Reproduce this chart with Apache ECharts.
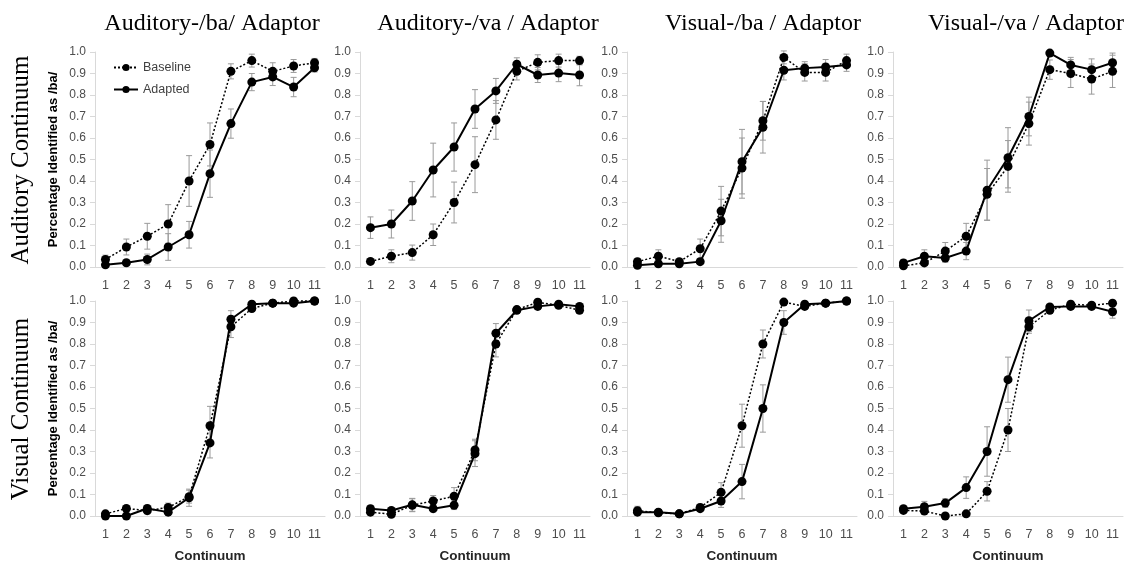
<!DOCTYPE html>
<html>
<head>
<meta charset="utf-8">
<script src="https://cdn.jsdelivr.net/npm/echarts@6/dist/echarts.min.js"></script>
<style>
  html, body { margin: 0; padding: 0; background: #fff; }
  #chart { width: 1139px; height: 565px; }
</style>
</head>
<body>
<div id="chart"></div>
<script>
const categories = ['1', '2', '3', '4', '5', '6', '7', '8', '9', '10', '11'];
const colTitles = ['Auditory-/ba/ Adaptor', 'Auditory-/va / Adaptor', 'Visual-/ba / Adaptor', 'Visual-/va / Adaptor'];
const rowTitles = ['Auditory Continuum', 'Visual Continuum'];
const yAxisTitle = 'Percentage Identified as /ba/';
const xAxisTitle = 'Continuum';

// row 1: auditory continuum
const p1Base = [0.035, 0.093, 0.143, 0.20, 0.40, 0.57, 0.91, 0.96, 0.91, 0.935, 0.95];
const p1BaseErr = [0.02, 0.037, 0.06, 0.09, 0.118, 0.10, 0.035, 0.03, 0.04, 0.03, 0.02];
const p1Adapt = [0.01, 0.02, 0.035, 0.093, 0.15, 0.434, 0.667, 0.86, 0.884, 0.837, 0.927];
const p1AdaptErr = [0.01, 0.01, 0.025, 0.062, 0.062, 0.11, 0.068, 0.04, 0.04, 0.045, 0.02];

const p2Base = [0.026, 0.05, 0.067, 0.15, 0.30, 0.476, 0.684, 0.91, 0.952, 0.96, 0.96];
const p2BaseErr = [0.01, 0.03, 0.035, 0.05, 0.095, 0.13, 0.09, 0.04, 0.035, 0.03, 0.02];
const p2Adapt = [0.183, 0.20, 0.307, 0.451, 0.558, 0.735, 0.819, 0.943, 0.893, 0.902, 0.893];
const p2AdaptErr = [0.05, 0.065, 0.09, 0.125, 0.112, 0.09, 0.058, 0.03, 0.035, 0.04, 0.05];

const p3Base = [0.025, 0.05, 0.025, 0.085, 0.26, 0.46, 0.68, 0.975, 0.905, 0.905, 0.96];
const p3BaseErr = [0.015, 0.03, 0.01, 0.045, 0.115, 0.14, 0.09, 0.03, 0.04, 0.04, 0.03];
const p3Adapt = [0.008, 0.015, 0.015, 0.025, 0.215, 0.49, 0.65, 0.915, 0.925, 0.93, 0.94];
const p3AdaptErr = [0.01, 0.01, 0.01, 0.01, 0.1, 0.15, 0.12, 0.045, 0.03, 0.035, 0.03];

const p4Base = [0.006, 0.019, 0.074, 0.143, 0.338, 0.468, 0.667, 0.918, 0.90, 0.874, 0.91];
const p4BaseErr = [0.01, 0.01, 0.04, 0.06, 0.12, 0.12, 0.1, 0.045, 0.065, 0.07, 0.075];
const p4Adapt = [0.019, 0.05, 0.042, 0.074, 0.357, 0.508, 0.70, 0.995, 0.94, 0.918, 0.95];
const p4AdaptErr = [0.015, 0.03, 0.02, 0.04, 0.14, 0.14, 0.09, 0.01, 0.035, 0.05, 0.045];

// row 2: visual continuum
const p5Base = [0.01, 0.035, 0.025, 0.04, 0.09, 0.42, 0.88, 0.965, 0.99, 1.0, 1.0];
const p5BaseErr = [0.01, 0.01, 0.015, 0.02, 0.03, 0.09, 0.05, 0.01, 0.005, 0.005, 0.005];
const p5Adapt = [0.0, 0.0, 0.035, 0.018, 0.085, 0.34, 0.915, 0.985, 0.99, 0.99, 1.0];
const p5AdaptErr = [0.005, 0.005, 0.015, 0.01, 0.04, 0.07, 0.04, 0.01, 0.005, 0.005, 0.005];

const p6Base = [0.018, 0.008, 0.05, 0.07, 0.092, 0.307, 0.80, 0.96, 0.994, 0.98, 0.957];
const p6BaseErr = [0.01, 0.01, 0.03, 0.025, 0.04, 0.05, 0.06, 0.015, 0.01, 0.01, 0.015];
const p6Adapt = [0.034, 0.026, 0.052, 0.034, 0.05, 0.29, 0.85, 0.957, 0.975, 0.985, 0.975];
const p6AdaptErr = [0.015, 0.01, 0.03, 0.015, 0.02, 0.06, 0.045, 0.01, 0.015, 0.01, 0.01];

const p7Base = [0.025, 0.015, 0.01, 0.04, 0.11, 0.42, 0.80, 0.995, 0.975, 0.99, 1.0];
const p7BaseErr = [0.02, 0.01, 0.005, 0.015, 0.045, 0.1, 0.065, 0.005, 0.01, 0.005, 0.005];
const p7Adapt = [0.018, 0.018, 0.01, 0.034, 0.07, 0.16, 0.50, 0.90, 0.985, 0.99, 1.0];
const p7AdaptErr = [0.01, 0.01, 0.005, 0.01, 0.03, 0.08, 0.11, 0.055, 0.01, 0.005, 0.005];

const p8Base = [0.026, 0.023, 0.0, 0.01, 0.115, 0.40, 0.88, 0.957, 0.985, 0.98, 0.99];
const p8BaseErr = [0.01, 0.01, 0.0, 0.005, 0.045, 0.1, 0.03, 0.015, 0.01, 0.01, 0.01];
const p8Adapt = [0.034, 0.043, 0.06, 0.132, 0.30, 0.634, 0.908, 0.972, 0.975, 0.975, 0.95];
const p8AdaptErr = [0.01, 0.025, 0.02, 0.05, 0.115, 0.105, 0.05, 0.01, 0.01, 0.015, 0.03];

const panels = [
  [p1Base, p1BaseErr, p1Adapt, p1AdaptErr],
  [p2Base, p2BaseErr, p2Adapt, p2AdaptErr],
  [p3Base, p3BaseErr, p3Adapt, p3AdaptErr],
  [p4Base, p4BaseErr, p4Adapt, p4AdaptErr],
  [p5Base, p5BaseErr, p5Adapt, p5AdaptErr],
  [p6Base, p6BaseErr, p6Adapt, p6AdaptErr],
  [p7Base, p7BaseErr, p7Adapt, p7AdaptErr],
  [p8Base, p8BaseErr, p8Adapt, p8AdaptErr],
];

const chart = echarts.init(document.getElementById('chart'));

const gridLefts = [95, 360, 627, 893];
const gridTops = [52, 301];
const titleCenters = [207, 483, 758, 1021];
const axisGray = '#d9d9d9';
const labelGray = '#4d4d4d';

function errorBar(params, api) {
  const x = api.value(0);
  const v = api.value(1);
  const e = api.value(2);
  const hi = api.coord([x, v + e]);
  const lo = api.coord([x, v - e]);
  const w = 3;
  const style = { stroke: '#9a9a9a', lineWidth: 1 };
  return {
    type: 'group',
    children: [
      { type: 'line', shape: { x1: hi[0], y1: hi[1], x2: lo[0], y2: lo[1] }, style },
      { type: 'line', shape: { x1: hi[0] - w, y1: hi[1], x2: hi[0] + w, y2: hi[1] }, style },
      { type: 'line', shape: { x1: lo[0] - w, y1: lo[1], x2: lo[0] + w, y2: lo[1] }, style },
    ],
  };
}

const grid = [], xAxis = [], yAxis = [], series = [], title = [];

panels.forEach((p, i) => {
  const row = Math.floor(i / 4);
  const col = i % 4;
  grid.push({ left: gridLefts[col], top: gridTops[row], width: 230, height: 215 });
  xAxis.push({
    type: 'category', gridIndex: i, data: categories, boundaryGap: true,
    axisLine: { lineStyle: { color: axisGray } },
    axisTick: { length: 5, lineStyle: { color: axisGray } },
    axisLabel: { interval: 0, color: labelGray, fontSize: 12.5, fontFamily: 'Liberation Sans', margin: 12 },
    name: row === 1 ? xAxisTitle : '',
    nameLocation: 'middle', nameGap: 33,
    nameTextStyle: { fontWeight: 'bold', fontSize: 13.5, fontFamily: 'Liberation Sans', color: '#262626' },
  });
  yAxis.push({
    type: 'value', gridIndex: i, min: 0, max: 1, interval: 0.1,
    axisLine: { show: true, lineStyle: { color: axisGray } },
    axisTick: { show: true, length: 5, lineStyle: { color: axisGray } },
    splitLine: { show: false },
    axisLabel: { color: labelGray, fontSize: 12, fontFamily: 'Liberation Sans', margin: 9, formatter: v => v.toFixed(1) },
    name: col === 0 ? yAxisTitle : '',
    nameLocation: 'middle', nameGap: 35,
    nameTextStyle: { fontWeight: 'bold', fontSize: 13, fontFamily: 'Liberation Sans', color: '#000' },
  });
  const [base, baseErr, adapt, adaptErr] = p;
  series.push({
    type: 'custom', xAxisIndex: i, yAxisIndex: i, renderItem: errorBar, z: 1, silent: true,
    data: base.map((v, k) => [k, v, baseErr[k]]),
  });
  series.push({
    type: 'custom', xAxisIndex: i, yAxisIndex: i, renderItem: errorBar, z: 1, silent: true,
    data: adapt.map((v, k) => [k, v, adaptErr[k]]),
  });
  series.push({
    name: 'Baseline', type: 'line', xAxisIndex: i, yAxisIndex: i, data: base, z: 3, clip: false,
    symbol: 'circle', symbolSize: 9, itemStyle: { color: '#000' },
    lineStyle: { color: '#000', width: 1.5, type: [2, 2] },
  });
  series.push({
    name: 'Adapted', type: 'line', xAxisIndex: i, yAxisIndex: i, data: adapt, z: 4, clip: false,
    symbol: 'circle', symbolSize: 9, itemStyle: { color: '#000' },
    lineStyle: { color: '#000', width: 2 },
  });
});

colTitles.forEach((t, c) => {
  title.push({
    text: t, left: titleCenters[c], top: 7, textAlign: 'center',
    textStyle: { fontFamily: 'Liberation Serif', fontSize: 24, fontWeight: 'normal', color: '#000' },
  });
});

const graphic = rowTitles.map((t, r) => ({
  type: 'text', x: 21, y: gridTops[r] + 108, rotation: Math.PI / 2,
  style: { text: t, fontFamily: 'Liberation Serif', fontSize: 25, fill: '#000', align: 'center', verticalAlign: 'middle' },
}));

chart.setOption({
  animation: false,
  backgroundColor: '#fff',
  title,
  grid,
  xAxis,
  yAxis,
  series,
  graphic,
  legend: {
    data: ['Baseline', 'Adapted'],
    orient: 'vertical', left: 108, top: 56, itemGap: 9,
    itemWidth: 24, itemHeight: 9,
    textStyle: { fontFamily: 'Liberation Sans', fontSize: 12.5, color: '#404040' },
  },
});
</script>
</body>
</html>
